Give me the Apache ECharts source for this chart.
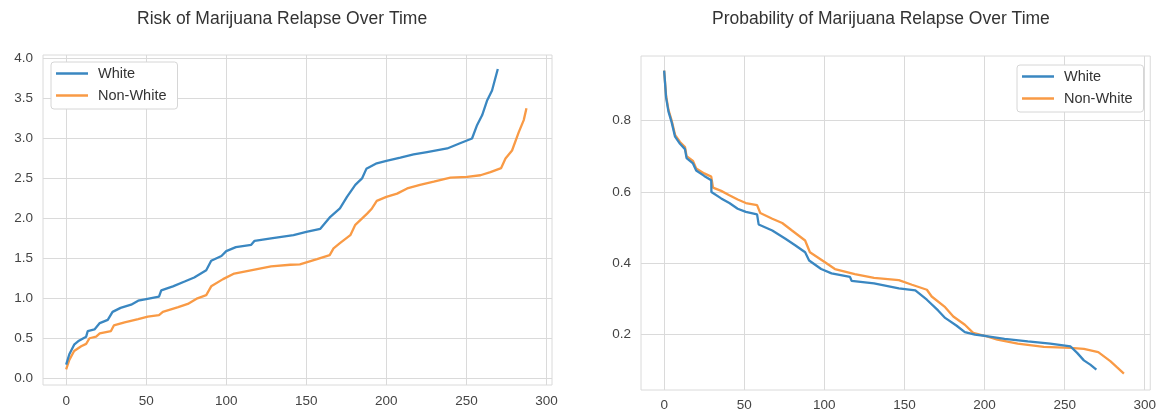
<!DOCTYPE html>
<html>
<head>
<meta charset="utf-8">
<title>Marijuana Relapse</title>
<script src="https://cdn.jsdelivr.net/npm/echarts@6/dist/echarts.min.js"></script>
<style>
  html, body { margin: 0; padding: 0; background: #fff; }
  #main { width: 1159px; height: 413px; }
</style>
</head>
<body>
<div id="main"></div>
<script>
// tick labels
const timeTicks = [0, 50, 100, 150, 200, 250, 300];
const riskTicks = [0, 0.5, 1, 1.5, 2, 2.5, 3, 3.5, 4];
const probTicks = [0.2, 0.4, 0.6, 0.8];

// cumulative hazard (left)
const whiteRiskT = [0, 2, 5, 8, 12.5, 13.5, 17.7, 21, 26, 29, 34, 40.6, 45, 50, 58, 59.4, 66.7, 74, 80, 87.5, 90.6, 97, 100, 106, 115.6, 117.7, 128, 142, 150, 158.75, 165, 171, 175.4, 180.6, 184.8, 187.5, 194, 200, 208.75, 217, 225.4, 238, 246, 253.5, 256.7, 259.8, 263, 266, 268, 269.6];
const whiteRisk = [0.17, 0.30, 0.42, 0.47, 0.52, 0.59, 0.61, 0.69, 0.73, 0.83, 0.88, 0.92, 0.97, 0.99, 1.02, 1.10, 1.15, 1.21, 1.26, 1.35, 1.47, 1.53, 1.59, 1.64, 1.67, 1.72, 1.75, 1.79, 1.83, 1.87, 2.02, 2.125, 2.27, 2.42, 2.50, 2.62, 2.69, 2.72, 2.76, 2.80, 2.83, 2.875, 2.94, 3.0, 3.17, 3.29, 3.48, 3.60, 3.75, 3.87];
const otherRiskT = [0, 2, 5, 9.4, 12.5, 14.6, 18.75, 21, 28, 29.8, 36.5, 45, 51, 58, 60.4, 70, 76, 82, 87.5, 90.6, 98, 105, 117.7, 128, 140, 146, 156.7, 164.6, 167, 171, 177.5, 180.6, 188, 191, 194, 200, 206.7, 213, 221, 229.6, 240, 250.4, 258.75, 265, 271.7, 274.4, 278.5, 282.7, 285.8, 287.5];
const otherRisk = [0.11, 0.23, 0.34, 0.40, 0.43, 0.50, 0.52, 0.56, 0.59, 0.66, 0.70, 0.74, 0.77, 0.79, 0.83, 0.89, 0.93, 1.00, 1.04, 1.15, 1.24, 1.31, 1.36, 1.40, 1.42, 1.425, 1.49, 1.54, 1.625, 1.69, 1.79, 1.92, 2.06, 2.125, 2.22, 2.27, 2.31, 2.375, 2.42, 2.46, 2.51, 2.52, 2.54, 2.58, 2.63, 2.75, 2.85, 3.08, 3.23, 3.38];

// survival probability (right)
const whiteProbT = [0, 1.2, 2.7, 4.7, 6.8, 9.9, 13, 14, 18, 20, 25, 29.4, 29.5, 35.6, 40.7, 45.9, 51, 58, 59, 67.5, 75.7, 82, 88, 90.5, 98, 104.5, 116, 117, 131, 146.5, 156.8, 164, 171, 175.4, 182.6, 187.7, 194, 200, 212.5, 227, 241, 253.7, 257.8, 262, 266, 269.8];
const whiteProb = [0.94, 0.865, 0.825, 0.795, 0.755, 0.735, 0.72, 0.695, 0.68, 0.66, 0.645, 0.633, 0.60, 0.582, 0.569, 0.553, 0.544, 0.537, 0.509, 0.492, 0.469, 0.45, 0.431, 0.408, 0.384, 0.372, 0.362, 0.351, 0.344, 0.33, 0.324, 0.298, 0.268, 0.247, 0.225, 0.207, 0.2, 0.197, 0.188, 0.181, 0.175, 0.167, 0.149, 0.128, 0.116, 0.102];
const otherProbT = [0, 1.2, 2.7, 4.7, 6.8, 9.9, 13, 14, 18, 20, 25, 29.4, 30.5, 35.6, 40.7, 45.9, 51, 58, 60, 67.5, 73.7, 79.8, 88, 91, 100.4, 106.6, 119, 131, 146.5, 154.7, 164, 167, 175.4, 180.5, 187.7, 192.9, 200, 208, 220.7, 237, 253.7, 262, 271, 278.5, 282.6, 287];
const otherProb = [0.94, 0.87, 0.83, 0.80, 0.76, 0.74, 0.726, 0.70, 0.687, 0.666, 0.652, 0.643, 0.612, 0.603, 0.591, 0.579, 0.569, 0.563, 0.541, 0.525, 0.513, 0.492, 0.464, 0.431, 0.403, 0.384, 0.37, 0.359, 0.353, 0.34, 0.326, 0.307, 0.277, 0.251, 0.228, 0.205, 0.197, 0.186, 0.175, 0.166, 0.163, 0.16, 0.151, 0.126, 0.109, 0.091];

const blue = '#3a87c1';
const orange = '#f99a45';
const gridColor = '#dadada';
const fontFamily = 'Liberation Sans, Arial, sans-serif';

function zip(xs, ys) {
  return xs.map((x, i) => [x, ys[i]]);
}

function xAxisOf(gridIndex, margin) {
  return {
    type: 'value',
    gridIndex: gridIndex,
    min: -14.45,
    max: 303.45,
    axisLine: { show: false },
    axisTick: { show: false, customValues: timeTicks },
    axisLabel: {
      customValues: timeTicks,
      margin: margin,
      color: '#444',
      fontSize: 13.5,
      fontFamily: fontFamily,
    },
    splitLine: { lineStyle: { color: gridColor, width: 1 } },
  };
}

function yAxisOf(gridIndex, min, max, ticks, digits) {
  return {
    type: 'value',
    gridIndex: gridIndex,
    min: min,
    max: max,
    axisLine: { show: false },
    axisTick: { show: false, customValues: ticks },
    axisLabel: {
      customValues: ticks,
      margin: 10,
      color: '#444',
      fontSize: 13.5,
      fontFamily: fontFamily,
      formatter: v => v.toFixed(digits),
    },
    splitLine: { lineStyle: { color: gridColor, width: 1 } },
  };
}

function legendOf(left, top) {
  return {
    left: left,
    top: top,
    orient: 'vertical',
    icon: 'rect',
    itemWidth: 32,
    itemHeight: 2.5,
    itemGap: 5,
    padding: [3, 11, 5, 5],
    backgroundColor: '#fff',
    borderColor: '#d6d6d6',
    borderWidth: 1,
    borderRadius: 3,
    textStyle: {
      fontSize: 14.5,
      lineHeight: 17,
      color: '#333',
      fontFamily: fontFamily,
      padding: [0, 0, 0, 5],
    },
    data: ['White', 'Non-White'],
  };
}

function lineOf(name, color, xi, data) {
  return {
    name: name,
    type: 'line',
    xAxisIndex: xi,
    yAxisIndex: xi,
    symbol: 'none',
    color: color,
    lineStyle: { color: color, width: 2.3 },
    data: data,
    z: name == 'White' ? 3 : 2,
  };
}

const chart = echarts.init(document.getElementById('main'), null, { renderer: 'canvas' });

const option = {
  animation: false,
  backgroundColor: '#fff',
  title: [
    {
      text: 'Risk of Marijuana Relapse Over Time',
      left: 137,
      top: 10,
      padding: 0,
      textStyle: { fontSize: 17.5, fontWeight: 'normal', color: '#333', fontFamily: fontFamily },
    },
    {
      text: 'Probability of Marijuana Relapse Over Time',
      left: 712,
      top: 10,
      padding: 0,
      textStyle: { fontSize: 17.5, fontWeight: 'normal', color: '#333', fontFamily: fontFamily },
    },
  ],
  legend: [legendOf(51, 62), legendOf(1017, 65)],
  grid: [
    { left: 43, right: 607, top: 55, bottom: 28, show: true, borderColor: gridColor, borderWidth: 1 },
    { left: 641, right: 6, top: 56, bottom: 23, show: true, borderColor: gridColor, borderWidth: 1 },
  ],
  xAxis: [xAxisOf(0, 9), xAxisOf(1, 8)],
  yAxis: [
    yAxisOf(0, -0.085, 4.045, riskTicks, 1),
    yAxisOf(1, 0.045, 0.981, probTicks, 1),
  ],
  series: [
    lineOf('White', blue, 0, zip(whiteRiskT, whiteRisk)),
    lineOf('Non-White', orange, 0, zip(otherRiskT, otherRisk)),
    lineOf('White', blue, 1, zip(whiteProbT, whiteProb)),
    lineOf('Non-White', orange, 1, zip(otherProbT, otherProb)),
  ],
};

chart.setOption(option);
</script>
</body>
</html>
